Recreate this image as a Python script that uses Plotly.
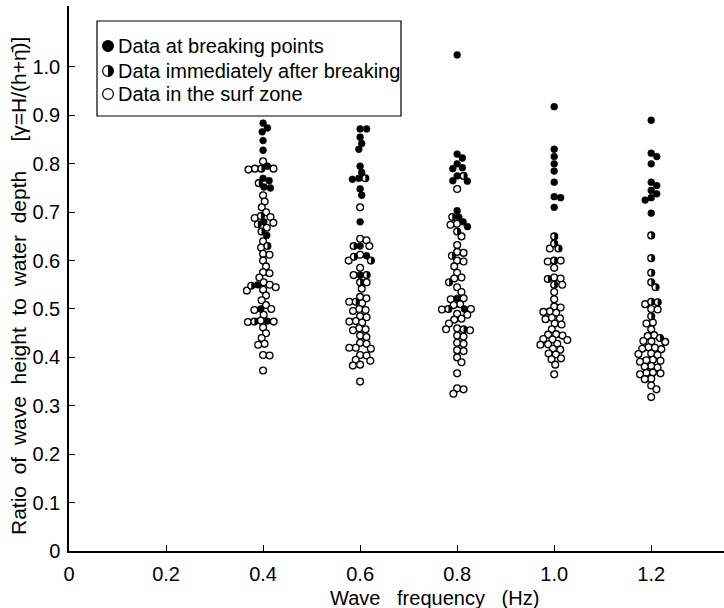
import plotly.graph_objects as go

# Wave frequencies (Hz) of the five test series
frequencies = [0.4, 0.6, 0.8, 1.0, 1.2]

# gamma = H/(h + eta_bar) at the breaking point
breaking = {
    0.4: [0.884, 0.874, 0.866, 0.848, 0.828, 0.795, 0.770, 0.765, 0.752, 0.750,
          0.680, 0.652, 0.550, 0.500, 0.475],
    0.6: [0.872, 0.872, 0.855, 0.842, 0.830, 0.795, 0.782, 0.770, 0.768, 0.748,
          0.735, 0.680, 0.630, 0.610, 0.570],
    0.8: [1.025, 0.820, 0.812, 0.800, 0.792, 0.790, 0.775, 0.765, 0.764, 0.703,
          0.690, 0.680, 0.670, 0.522, 0.500],
    1.0: [0.918, 0.830, 0.815, 0.800, 0.785, 0.762, 0.732, 0.730, 0.710],
    1.2: [0.890, 0.822, 0.815, 0.800, 0.762, 0.755, 0.745, 0.738, 0.730, 0.725,
          0.698],
}

# gamma immediately after breaking
after_breaking = {
    0.4: [0.790, 0.760, 0.692, 0.675, 0.660, 0.630, 0.548, 0.474],
    0.6: [0.770, 0.630, 0.608, 0.600, 0.570, 0.555, 0.515],
    0.8: [0.775, 0.690, 0.660, 0.610, 0.555, 0.500, 0.458],
    1.0: [0.650, 0.635, 0.625, 0.600, 0.562, 0.550],
    1.2: [0.652, 0.605, 0.575, 0.555, 0.545, 0.515, 0.514, 0.485, 0.440],
}

# gamma inside the surf zone
surf_zone = {
    0.4: [0.805, 0.790, 0.790, 0.788, 0.735, 0.722, 0.710, 0.700, 0.690, 0.688,
          0.678, 0.668, 0.640, 0.627, 0.614, 0.612, 0.600, 0.588, 0.576, 0.574,
          0.565, 0.555, 0.550, 0.545, 0.540, 0.538, 0.528, 0.518, 0.508, 0.500,
          0.498, 0.488, 0.476, 0.474, 0.473, 0.462, 0.450, 0.440, 0.428, 0.426,
          0.405, 0.404, 0.373],
    0.6: [0.710, 0.645, 0.642, 0.630, 0.612, 0.600, 0.585, 0.570, 0.555, 0.542,
          0.525, 0.522, 0.515, 0.512, 0.500, 0.498, 0.496, 0.485, 0.483, 0.475,
          0.474, 0.472, 0.460, 0.458, 0.456, 0.445, 0.442, 0.430, 0.428, 0.420,
          0.420, 0.418, 0.405, 0.404, 0.395, 0.393, 0.385, 0.383, 0.350],
    0.8: [0.748, 0.676, 0.674, 0.650, 0.632, 0.618, 0.616, 0.600, 0.598, 0.588,
          0.575, 0.565, 0.563, 0.545, 0.535, 0.522, 0.520, 0.510, 0.508, 0.500,
          0.499, 0.490, 0.488, 0.480, 0.478, 0.470, 0.460, 0.458, 0.456, 0.445,
          0.443, 0.430, 0.428, 0.415, 0.413, 0.400, 0.390, 0.367, 0.336, 0.334,
          0.325],
    1.0: [0.625, 0.600, 0.598, 0.585, 0.565, 0.563, 0.550, 0.535, 0.520, 0.505,
          0.503, 0.495, 0.494, 0.492, 0.482, 0.481, 0.479, 0.470, 0.468, 0.458,
          0.448, 0.447, 0.445, 0.438, 0.437, 0.436, 0.428, 0.427, 0.426, 0.418,
          0.416, 0.408, 0.406, 0.398, 0.396, 0.385, 0.365],
    1.2: [0.510, 0.500, 0.499, 0.472, 0.470, 0.458, 0.446, 0.444, 0.434, 0.433,
          0.432, 0.421, 0.420, 0.418, 0.417, 0.408, 0.407, 0.405, 0.395, 0.394,
          0.393, 0.391, 0.382, 0.381, 0.379, 0.369, 0.368, 0.367, 0.365, 0.356,
          0.355, 0.342, 0.334, 0.318],
}

x_tick_vals = [0, 0.2, 0.4, 0.6, 0.8, 1.0, 1.2]
x_tick_text = ["0", "0.2", "0.4", "0.6", "0.8", "1.0", "1.2"]
y_tick_vals = [0, 0.1, 0.2, 0.3, 0.4, 0.5, 0.6, 0.7, 0.8, 0.9, 1.0]
y_tick_text = ["0", "0.1", "0.2", "0.3", "0.4", "0.5", "0.6", "0.7", "0.8", "0.9", "1.0"]

legend_labels = ["Data at breaking points",
                 "Data immediately after breaking",
                 "Data in the surf zone"]

X_RANGE = [0, 1.35]
Y_RANGE = [0, 1.126]
WIDTH, HEIGHT = 724, 608
MARGIN = dict(l=69, r=0, t=6, b=57)

FONT = "Liberation Sans, Arial, sans-serif"

plot_w = WIDTH - MARGIN["l"] - MARGIN["r"]
plot_h = HEIGHT - MARGIN["t"] - MARGIN["b"]
px_x = plot_w / (X_RANGE[1] - X_RANGE[0])
px_y = plot_h / (Y_RANGE[1] - Y_RANGE[0])

DOT = 6.8        # marker diameter (px)
SPACING = 6.5    # centre-to-centre distance used by the swarm layout (px)


def px_to_paper_x(px):
    return (px - MARGIN["l"]) / plot_w


def px_to_paper_y(py):
    return (HEIGHT - MARGIN["b"] - py) / plot_h


def swarm(freq):
    """Beeswarm layout: each point gets the smallest sideways shift that keeps
    it clear of every point already placed."""
    pts = [(v, "b") for v in breaking[freq]] + \
          [(v, "a") for v in after_breaking[freq]] + \
          [(v, "s") for v in surf_zone[freq]]
    pts.sort(key=lambda p: -p[0])
    placed = []
    out = {"b": ([], []), "a": ([], []), "s": ([], [])}
    d2 = SPACING * SPACING
    for v, kind in pts:
        yp = v * px_y
        near = [(qx, qy) for qx, qy in placed if abs(qy - yp) < SPACING]
        cands = [0.0]
        for qx, qy in near:
            dx = (d2 - (qy - yp) ** 2) ** 0.5
            cands += [qx + dx, qx - dx]
        cands.sort(key=lambda c: (round(abs(c), 6), -c))
        xp = cands[-1]
        for c in cands:
            if all((c - qx) ** 2 + (yp - qy) ** 2 >= d2 - 1e-6 for qx, qy in near):
                xp = c
                break
        placed.append((xp, yp))
        out[kind][0].append(freq + xp / px_x)
        out[kind][1].append(v)
    return out


bx, by, hx, hy, sx, sy = [], [], [], [], [], []
for f in frequencies:
    o = swarm(f)
    bx += o["b"][0]; by += o["b"][1]
    hx += o["a"][0]; hy += o["a"][1]
    sx += o["s"][0]; sy += o["s"][1]

open_marker = dict(symbol="circle", size=DOT, color="white",
                   line=dict(color="black", width=1.3))

fig = go.Figure()
fig.add_trace(go.Scatter(x=sx, y=sy, mode="markers", name=legend_labels[2],
                         marker=open_marker))
fig.add_trace(go.Scatter(x=hx, y=hy, mode="markers", name=legend_labels[1],
                         marker=open_marker))
fig.add_trace(go.Scatter(x=bx, y=by, mode="markers", name=legend_labels[0],
                         marker=dict(symbol="circle", size=DOT, color="black",
                                     line=dict(color="black", width=0.6))))


def half_path(r):
    """Right half of a circle of radius r (pixels), built from two Beziers."""
    k = 0.5523 * r
    return (f"M 0,{r} C {k},{r} {r},{k} {r},0 "
            f"C {r},{-k} {k},{-r} 0,{-r} Z")


shapes = []
# dark right halves of the "immediately after breaking" points
for x, y in zip(hx, hy):
    shapes.append(dict(type="path", xref="x", yref="y",
                       xsizemode="pixel", ysizemode="pixel",
                       xanchor=x, yanchor=y, path=half_path(DOT / 2 + 0.2),
                       fillcolor="black", line=dict(width=0), layer="above"))

# key box
shapes.append(dict(type="rect", xref="paper", yref="paper",
                   x0=px_to_paper_x(97), x1=px_to_paper_x(401),
                   y0=px_to_paper_y(116), y1=px_to_paper_y(21),
                   line=dict(color="black", width=1.2), fillcolor="white",
                   layer="above"))

key_rows_px = [46, 71, 94]
key_x_px = 108
R = 5.4
for i, row in enumerate(key_rows_px):
    ax = px_to_paper_x(key_x_px)
    ay = px_to_paper_y(row)
    fill = "black" if i == 0 else "white"
    shapes.append(dict(type="circle", xref="paper", yref="paper",
                       xsizemode="pixel", ysizemode="pixel",
                       xanchor=ax, yanchor=ay, x0=-R, x1=R, y0=-R, y1=R,
                       fillcolor=fill, line=dict(color="black", width=1.2),
                       layer="above"))
    if i == 1:
        shapes.append(dict(type="path", xref="paper", yref="paper",
                           xsizemode="pixel", ysizemode="pixel",
                           xanchor=ax, yanchor=ay, path=half_path(R),
                           fillcolor="black", line=dict(width=0), layer="above"))
    fig.add_annotation(xref="paper", yref="paper",
                       x=px_to_paper_x(116), y=ay, xanchor="left",
                       yanchor="middle", showarrow=False,
                       text=legend_labels[i],
                       font=dict(family=FONT, size=20, color="black"))

# y-axis title
fig.add_annotation(
    xref="paper", yref="paper",
    x=px_to_paper_x(18), y=px_to_paper_y(286),
    xanchor="center", yanchor="middle", textangle=-90, showarrow=False,
    text="Ratio  of  wave  height  to  water  depth     [\u03B3=H/(h+\u03B7\u0304)]",
    font=dict(family=FONT, size=21, color="black"),
)

# x-axis title
fig.add_annotation(
    xref="paper", yref="paper",
    x=px_to_paper_x(434), y=px_to_paper_y(598),
    xanchor="center", yanchor="middle", showarrow=False,
    text="Wave   frequency   (Hz)",
    font=dict(family=FONT, size=20, color="black"),
)

axis_common = dict(
    showgrid=False, zeroline=False, showline=True, linecolor="black",
    linewidth=1.5, ticks="inside", ticklen=6, tickwidth=1.2, tickcolor="black",
    tickfont=dict(family=FONT, size=20, color="black"),
)

fig.update_xaxes(range=X_RANGE, tickvals=x_tick_vals, ticktext=x_tick_text,
                 ticklabelstandoff=4, **axis_common)
fig.update_yaxes(range=Y_RANGE, tickvals=y_tick_vals, ticktext=y_tick_text,
                 ticklabelstandoff=3, **axis_common)

fig.update_layout(
    width=WIDTH, height=HEIGHT, margin=MARGIN,
    plot_bgcolor="white", paper_bgcolor="white",
    showlegend=False, shapes=shapes,
    font=dict(family=FONT, color="black"),
)

fig.write_html("out.html")
